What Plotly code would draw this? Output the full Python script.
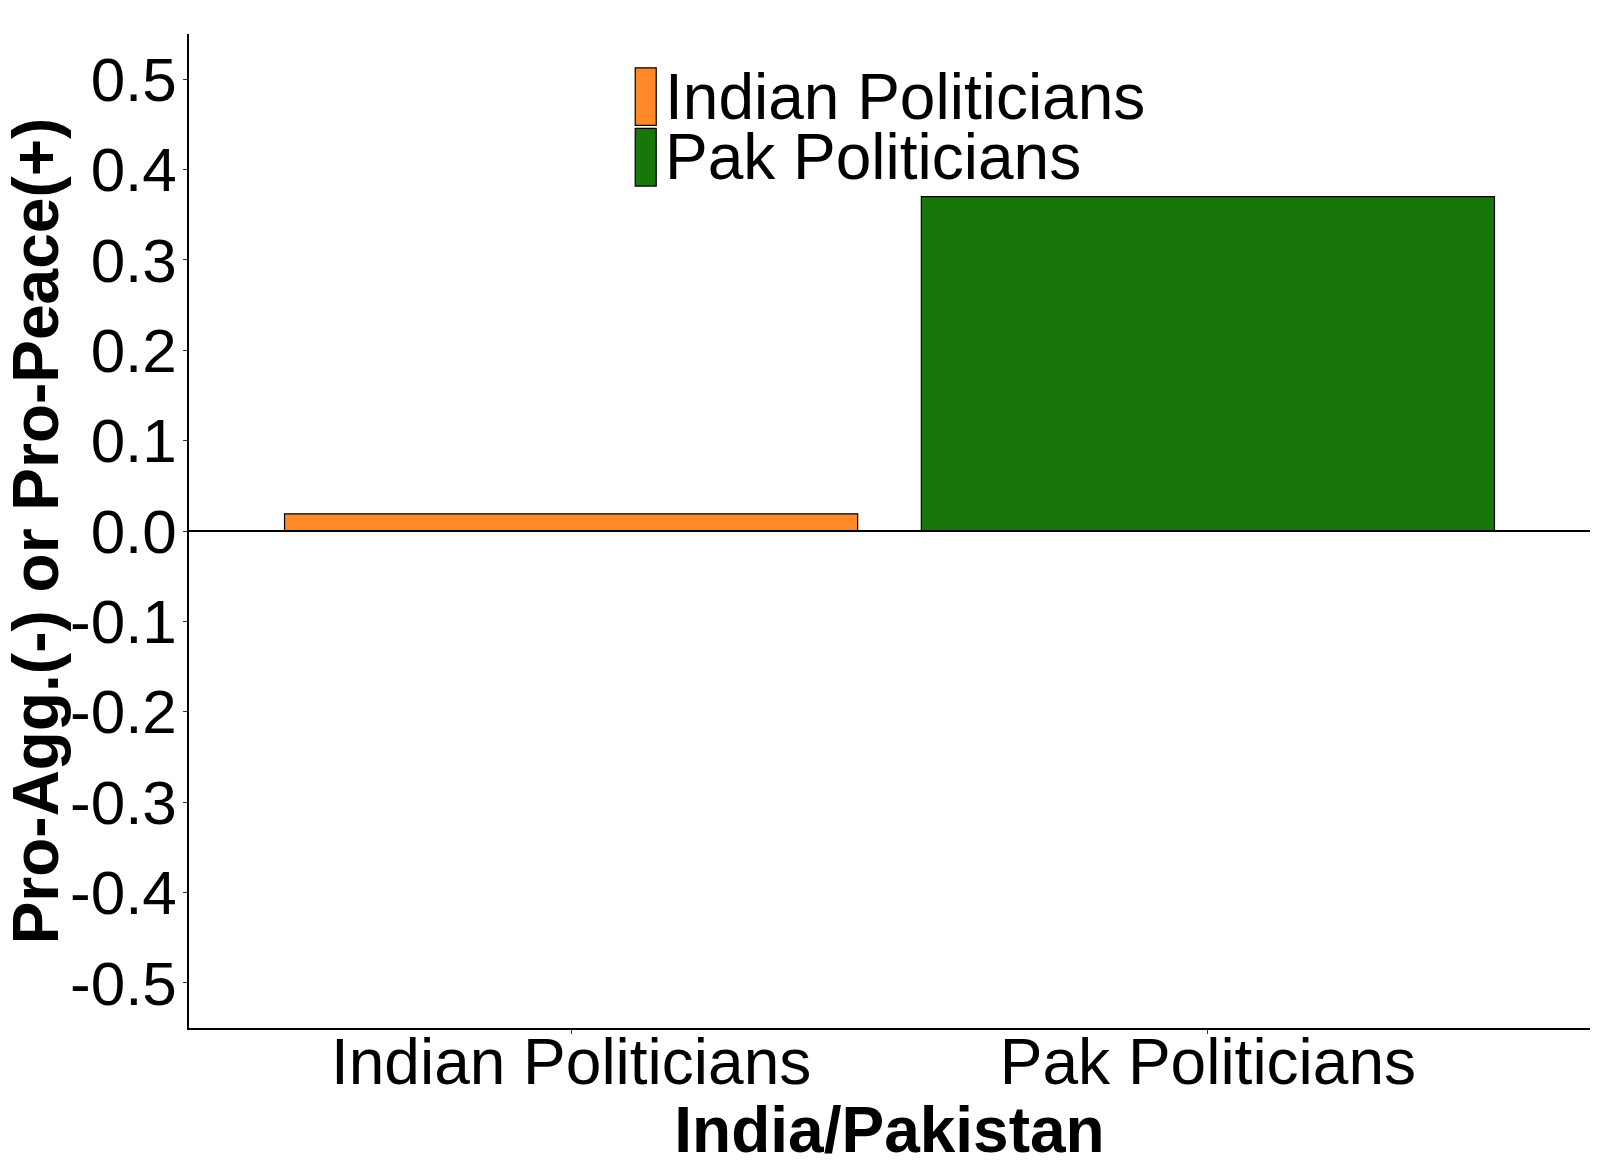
import plotly.graph_objects as go

categories = ["Indian Politicians", "Pak Politicians"]
scores = [0.019, 0.370]
colors = ["#FF8829", "#17770B"]
y_ticks = [0.5, 0.4, 0.3, 0.2, 0.1, 0.0, -0.1, -0.2, -0.3, -0.4, -0.5]
y_tick_text = ["%.1f" % v for v in y_ticks]  # plain hyphen for negatives

FONT = "Liberation Sans, Arial, sans-serif"

fig = go.Figure()

fig.add_trace(go.Bar(
    x=[1, 2],
    y=scores,
    width=0.9,
    marker=dict(color=colors, line=dict(color="black", width=1.2)),
    showlegend=False,
))

# zero reference line
fig.add_hline(y=0, line=dict(color="black", width=2))

# manual legend (tall keys like ggplot)
key_top = [0.966, 0.905]
key_h = 0.058
for name, col, top in zip(categories, colors, key_top):
    fig.add_shape(
        type="rect", xref="paper", yref="paper",
        x0=0.3185, x1=0.3335, y0=top - key_h, y1=top,
        fillcolor=col, line=dict(color="black", width=1.2),
    )
    fig.add_annotation(
        xref="paper", yref="paper",
        x=0.338, y=top - key_h / 2,
        text=name, showarrow=False,
        xanchor="left", yanchor="middle",
        height=58,
        font=dict(family=FONT, size=64, color="black"),
    )

fig.update_layout(
    width=1600,
    height=1166,
    margin=dict(l=189, r=10, t=34, b=138),
    plot_bgcolor="white",
    paper_bgcolor="white",
    font=dict(family=FONT, size=62, color="black"),
    showlegend=False,
    xaxis=dict(
        range=[0.4, 2.6],
        tickvals=[1, 2],
        ticktext=categories,
        ticks="outside",
        ticklen=4,
        tickcolor="#333333",
        ticklabelstandoff=-27,
        showline=True,
        linecolor="black",
        linewidth=1.5,
        showgrid=False,
        zeroline=False,
        automargin=False,
        tickfont=dict(family=FONT, size=64, color="black"),
        title=dict(
            text="<b>India/Pakistan</b>",
            font=dict(family=FONT, size=64, color="black"),
            standoff=0,
        ),
    ),
    yaxis=dict(
        range=[-0.55, 0.55],
        tickvals=y_ticks,
        ticktext=y_tick_text,
        ticks="outside",
        ticklen=4,
        tickcolor="#333333",
        ticklabelstandoff=-6,
        showline=True,
        linecolor="black",
        linewidth=1.5,
        showgrid=False,
        zeroline=False,
        automargin=False,
        tickfont=dict(family=FONT, size=62, color="black"),
        title=dict(
            text="<b>Pro-Agg.(-) or Pro-Peace(+)</b>",
            font=dict(family=FONT, size=64, color="black"),
            standoff=0,
        ),
    ),
)

fig.write_html(
    "out.html",
    config={"displayModeBar": False},
    post_script="document.body.style.margin='0';",
)
